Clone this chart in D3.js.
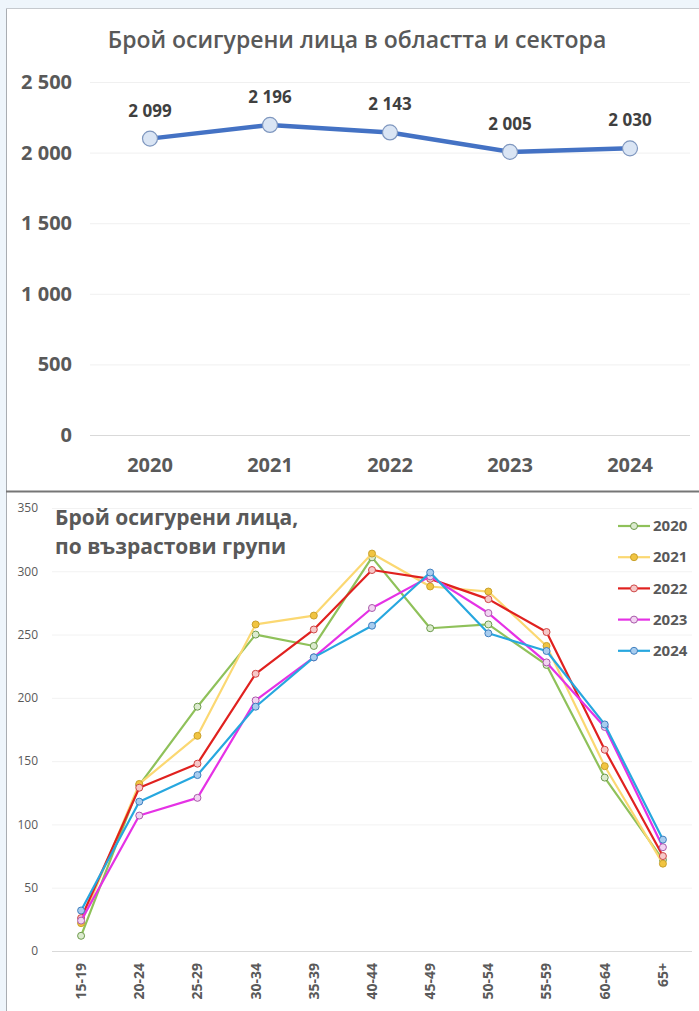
<!DOCTYPE html>
<html>
<head>
<meta charset="utf-8">
<script src="https://cdn.jsdelivr.net/npm/d3@7"></script>
<style>
  html, body { margin: 0; padding: 0; background: #eef5fb; }
  svg { display: block; font-family: "Open Sans", "Noto Sans", sans-serif; }
</style>
</head>
<body>
<svg id="chart" width="699" height="1011"></svg>
<script>
// ---- Data: insured persons, total by year ----
const years = ["2020", "2021", "2022", "2023", "2024"];
const totalInsured = [2099, 2196, 2143, 2005, 2030];
const totalTicks = [0, 500, 1000, 1500, 2000, 2500];

// ---- Data: insured persons by age group ----
const ageGroups = ["15-19", "20-24", "25-29", "30-34", "35-39", "40-44", "45-49", "50-54", "55-59", "60-64", "65+"];
const insured2020 = [12, 131, 193, 250, 241, 311, 255, 258, 226, 137, 72];
const insured2021 = [22, 132, 170, 258, 265, 314, 288, 284, 241, 146, 69];
const insured2022 = [26, 129, 148, 219, 254, 301, 294, 278, 252, 159, 75];
const insured2023 = [24, 107, 121, 198, 232, 271, 296, 267, 228, 177, 82];
const insured2024 = [32, 118, 139, 193, 232, 257, 299, 251, 237, 179, 88];
const ageTicks = [0, 50, 100, 150, 200, 250, 300, 350];

const series = [
  { name: "2020", values: insured2020, line: "#8fc15a", fill: "#dcebcf", stroke: "#6d9a4c" },
  { name: "2021", values: insured2021, line: "#fbd872", fill: "#f1c441", stroke: "#c9a12c" },
  { name: "2022", values: insured2022, line: "#e0211f", fill: "#f6c8c8", stroke: "#cf4747" },
  { name: "2023", values: insured2023, line: "#e532e5", fill: "#f2d3f2", stroke: "#a95aa9" },
  { name: "2024", values: insured2024, line: "#27a7df", fill: "#a8cdef", stroke: "#3f7fbf" }
];

const fmt = d3.formatLocale({ decimal: ",", thousands: " ", grouping: [3], currency: ["", ""] }).format(",d");
const textGray = "#595959";

const svg = d3.select("#chart");

// Panel frame
svg.append("rect").attr("x", 6).attr("y", 8).attr("width", 700).attr("height", 1010).attr("fill", "#ffffff");
svg.append("line").attr("x1", 6.5).attr("x2", 6.5).attr("y1", 8).attr("y2", 1011).attr("stroke", "#a9adb2").attr("stroke-width", 1);
svg.append("line").attr("x1", 6).attr("x2", 699).attr("y1", 8.5).attr("y2", 8.5).attr("stroke", "#c5c9ce").attr("stroke-width", 1);
svg.append("line").attr("x1", 6).attr("x2", 699).attr("y1", 491.5).attr("y2", 491.5).attr("stroke", "#767676").attr("stroke-width", 2);

// =================== Top chart: total by year ===================
const totalG = svg.append("g");
const xTop = d3.scaleBand().domain(years).range([90, 690]);
const yTop = d3.scaleLinear().domain([0, 2500]).range([435, 82]);

totalG.append("text")
  .attr("x", 357).attr("y", 48)
  .attr("text-anchor", "middle")
  .attr("font-size", 23).attr("font-weight", 600)
  .attr("fill", textGray)
  .text("Брой осигурени лица в областта и сектора");

// gridlines
totalG.append("g").selectAll("line").data(totalTicks).join("line")
  .attr("x1", 90).attr("x2", 690)
  .attr("y1", d => yTop(d) + 0.5).attr("y2", d => yTop(d) + 0.5)
  .attr("stroke", d => d === 0 ? "#d9d9d9" : "#f0f0f0").attr("stroke-width", 1);

// y axis labels
const yAxisTop = d3.axisLeft(yTop).tickValues(totalTicks).tickFormat(fmt).tickSize(0).tickPadding(0);
totalG.append("g").attr("transform", "translate(72,0)").call(yAxisTop)
  .call(g => g.select(".domain").remove())
  .call(g => g.selectAll("text")
    .attr("font-family", "'Open Sans', sans-serif")
    .attr("font-size", 20).attr("font-weight", 700).attr("fill", textGray));

// x axis labels
const xAxisTop = d3.axisBottom(xTop).tickSize(0).tickPadding(0);
totalG.append("g").attr("transform", "translate(0,458)").call(xAxisTop)
  .call(g => g.select(".domain").remove())
  .call(g => g.selectAll("text")
    .attr("font-family", "'Open Sans', sans-serif")
    .attr("font-size", 20).attr("font-weight", 700).attr("fill", textGray));

const topPts = years.map((y, i) => ({ k: y, v: totalInsured[i] }));
const lineTop = d3.line().x(d => xTop(d.k) + xTop.bandwidth() / 2).y(d => yTop(d.v));
totalG.append("path").datum(topPts)
  .attr("d", lineTop).attr("fill", "none")
  .attr("stroke", "#4472c4").attr("stroke-width", 4.5).attr("stroke-linejoin", "round");

totalG.append("g").selectAll("circle").data(topPts).join("circle")
  .attr("cx", d => xTop(d.k) + xTop.bandwidth() / 2)
  .attr("cy", d => yTop(d.v))
  .attr("r", 7.5)
  .attr("fill", "#dae5f4").attr("stroke", "#7f97bf").attr("stroke-width", 1.2);

totalG.append("g").selectAll("text").data(topPts).join("text")
  .attr("x", d => xTop(d.k) + xTop.bandwidth() / 2)
  .attr("y", d => yTop(d.v) - 22)
  .attr("text-anchor", "middle")
  .attr("font-size", 17).attr("font-weight", 700).attr("fill", "#404040")
  .text(d => fmt(d.v));

// =================== Bottom chart: by age group ===================
const ageG = svg.append("g");
const xBot = d3.scaleBand().domain(ageGroups).range([52, 692]);
const yBot = d3.scaleLinear().domain([0, 350]).range([951, 508]);

ageG.append("g").selectAll("line").data(ageTicks).join("line")
  .attr("x1", 52).attr("x2", 692)
  .attr("y1", d => yBot(d) + 0.5).attr("y2", d => yBot(d) + 0.5)
  .attr("stroke", d => d === 0 ? "#d9d9d9" : "#f2f2f2").attr("stroke-width", 1);

const yAxisBot = d3.axisLeft(yBot).tickValues(ageTicks).tickSize(0).tickPadding(0);
ageG.append("g").attr("transform", "translate(38,0)").call(yAxisBot)
  .call(g => g.select(".domain").remove())
  .call(g => g.selectAll("text")
    .attr("font-family", "'Open Sans', sans-serif")
    .attr("font-size", 12).attr("font-weight", 400).attr("fill", textGray));

const xAxisBot = d3.axisBottom(xBot).tickSize(0).tickPadding(0);
ageG.append("g").attr("transform", "translate(0,963)").call(xAxisBot)
  .call(g => g.select(".domain").remove())
  .call(g => g.selectAll("text")
    .attr("font-family", "'Open Sans', sans-serif")
    .attr("font-size", 14).attr("font-weight", 700).attr("fill", textGray)
    .attr("text-anchor", "end").attr("dy", "0.35em")
    .attr("transform", "rotate(-90)").attr("x", 0).attr("y", 0));

// title
const tt = ageG.append("text").attr("font-size", 21).attr("font-weight", 700).attr("fill", textGray);
tt.append("tspan").attr("x", 55).attr("y", 525).text("Брой осигурени лица,");
tt.append("tspan").attr("x", 55).attr("y", 554).text("по възрастови групи");

const lineBot = d3.line().x((d, i) => xBot(ageGroups[i]) + xBot.bandwidth() / 2).y(d => yBot(d));
series.forEach(s => {
  ageG.append("path").datum(s.values)
    .attr("d", lineBot).attr("fill", "none")
    .attr("stroke", s.line).attr("stroke-width", 2.2).attr("stroke-linejoin", "round");
  ageG.append("g").selectAll("circle").data(s.values).join("circle")
    .attr("cx", (d, i) => xBot(ageGroups[i]) + xBot.bandwidth() / 2)
    .attr("cy", d => yBot(d))
    .attr("r", 3.5)
    .attr("fill", s.fill).attr("stroke", s.stroke).attr("stroke-width", 1);
});

// legend
const legend = ageG.append("g").selectAll("g").data(series).join("g")
  .attr("transform", (d, i) => `translate(618,${526 + i * 31.2})`);
legend.append("line").attr("x1", 0).attr("x2", 32).attr("stroke", d => d.line).attr("stroke-width", 2.2);
legend.append("circle").attr("cx", 16).attr("r", 3.5)
  .attr("fill", d => d.fill).attr("stroke", d => d.stroke).attr("stroke-width", 1);
legend.append("text").attr("x", 35).attr("dy", "0.35em")
  .attr("font-size", 15).attr("font-weight", 700).attr("fill", textGray)
  .text(d => d.name);
</script>
</body>
</html>
